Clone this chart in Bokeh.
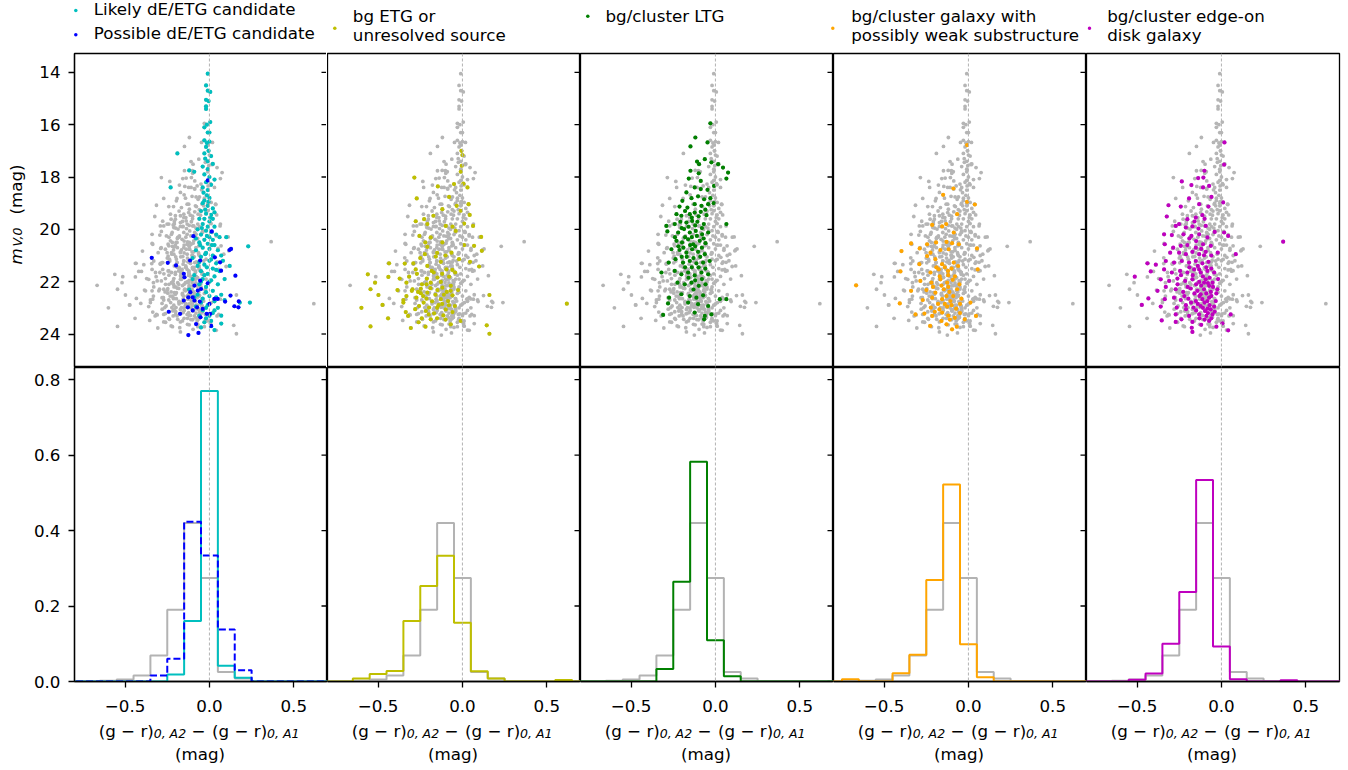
import math
from bokeh.plotting import figure
from bokeh.layouts import gridplot, column, row
from bokeh.models import Range1d, FixedTicker, Span, NumeralTickFormatter
from bokeh.embed import file_html
from bokeh.resources import INLINE
from bokeh.core.properties import value

FONT = "DejaVu Sans"
FS = "16.7px"

# ---------------- scatter data: (colour difference, m_V,0) ----------------
likely_de = [(-0.01,14.05),(-0.02,14.5),(-0.01,14.7),(0.005,14.75),(-0.02,15.05),(-0.005,15.1),
    (-0.02,15.3),(-0.02,15.4),(0.005,15.9),(-0.015,16.0),(-0.03,16.1),(-0.01,16.3),(0.0,16.3),
    (-0.03,16.6),(-0.015,16.7),(0.0,16.65),(-0.02,16.85),(-0.005,17.0),(-0.03,17.1),(0.01,17.2),
    (-0.025,17.3),(-0.01,17.4),(0.02,17.5),(-0.04,17.6),(-0.01,17.7),(-0.19,17.1),(-0.12,17.75),
    (-0.09,17.8),(-0.03,17.9),(0.0,18.0),(-0.02,18.2),(0.01,18.3),(-0.04,18.4),(-0.01,18.5),
    (0.03,18.1),(-0.23,18.4),(-0.015,18.7),(-0.03,18.9),(0.0,18.8),(-0.01,19.1),(-0.04,19.0),
    (0.02,19.2),(-0.05,19.3),(-0.02,19.4),(0.01,19.45),(-0.06,19.6),(-0.03,19.6),(0.0,19.7),
    (0.02,19.6),(-0.04,19.8),(-0.01,19.9),(0.03,19.9),(-0.07,20.0),(-0.02,20.05),(0.01,20.1),
    (0.04,20.2),(-0.05,20.2),(0.0,20.3),(-0.03,20.4),(0.02,20.4),(0.06,20.3),(0.1,20.3),
    (-0.06,20.5),(-0.01,20.55),(0.03,20.6),(-0.04,20.7),(0.0,20.75),(0.05,20.8),(-0.08,20.8),
    (0.23,20.65),(-0.02,20.9),(0.02,21.0),(-0.05,21.05),(0.07,21.0),(-0.1,21.1),(0.0,21.2),
    (0.04,21.3),(-0.03,21.35),(-0.07,21.4),(0.12,21.4),(0.02,21.5),(-0.05,21.6),(0.06,21.6),
    (-0.01,21.7),(-0.09,21.75),(0.03,21.8),(-0.04,21.9),(0.09,21.9),(0.0,22.0),(-0.06,22.1),
    (0.05,22.1),(-0.02,22.2),(-0.12,22.3),(0.02,22.35),(-0.07,22.5),(0.07,22.5),(0.0,22.55),
    (-0.04,22.65),(0.09,22.7),(0.03,22.75),(0.18,22.8),(0.24,22.8),(-0.01,22.9),(-0.08,22.95),
    (0.05,23.0),(-0.04,23.1),(0.02,23.2),(0.07,23.3),(-0.02,23.4),(0.01,23.5),(0.07,23.6),
    (0.01,23.7),(-0.05,23.75),
    (-0.035,18.6),(-0.005,18.95),(-0.025,19.25),(0.005,19.55),(-0.045,19.95),(-0.015,20.25),
    (0.015,20.6),(-0.055,20.6),(-0.025,20.95),(0.01,21.15),(-0.06,21.25),(-0.015,21.45),
    (0.04,21.55),(-0.03,21.75),(0.01,21.95),(-0.05,22.0),(-0.02,22.4),(0.04,22.6),(-0.05,22.8),
    (-0.02,23.0),(0.03,23.1),(-0.06,23.3),(0.0,23.3),(-0.03,23.55),(0.03,23.85),(-0.1,21.9),
    (-0.09,22.6),(0.08,21.2),(-0.08,20.35),(0.03,19.35)]

possible_de = [(-0.342,21.09),(-0.247,21.28),(-0.198,21.38),(-0.152,21.7),(-0.148,21.83),
    (-0.115,21.19),(-0.095,20.26),(-0.055,21.19),(-0.01,18.13),(0.014,20.08),(0.032,21.07),
    (0.063,21.26),(0.119,20.79),(0.128,20.75),(0.154,21.77),(0.069,21.58),(-0.113,22.4),
    (-0.089,22.15),(-0.069,22.34),(-0.055,21.96),(-0.05,22.28),(-0.099,22.6),(-0.125,22.6),
    (-0.152,22.72),(-0.089,22.72),(-0.057,22.76),(-0.01,22.06),(0.0,22.85),(0.03,22.66),
    (0.049,22.66),(0.093,22.76),(0.125,22.53),(0.148,22.94),(0.172,22.98),(0.174,22.75),
    (-0.241,23.15),(-0.174,23.23),(-0.128,22.98),(-0.099,23.1),(-0.073,22.98),(-0.04,23.04),
    (-0.016,23.23),(0.004,23.23),(-0.079,23.62),(0.01,23.69),(-0.065,23.96),(-0.125,24.04),
    (-0.053,23.36)]

bg_etg = [(-0.006,17.0),(0.0,17.16),(-0.004,17.57),(-0.01,17.8),(-0.285,18.02),(0.006,18.25),
    (-0.05,18.27),(0.03,18.4),(-0.146,18.36),(-0.271,18.82),(-0.079,18.76),(-0.034,19.1),
    (0.036,19.04),(-0.01,19.29),(-0.119,19.23),(-0.227,19.61),(-0.277,19.69),(0.043,19.45),
    (-0.172,19.48),(-0.208,19.8),(-0.099,19.87),(-0.059,19.9),(-0.04,20.06),(0.01,19.78),
    (0.063,19.87),(-0.255,20.25),(-0.188,20.31),(-0.119,20.5),(0.01,20.6),(0.111,20.29),
    (-0.208,20.67),(0.069,20.63),(-0.223,20.95),(-0.158,21.04),(-0.065,20.89),(-0.02,21.14),
    (0.115,20.82),(-0.435,21.3),(-0.291,21.3),(-0.342,21.31),(-0.208,21.4),(-0.128,21.24),
    (0.045,21.24),(0.099,21.42),(-0.277,21.53),(-0.182,21.59),(-0.095,21.53),(-0.043,21.65),
    (-0.561,21.72),(-0.439,21.82),(-0.372,21.88),(-0.316,21.81),(-0.211,21.88),(-0.148,21.84),
    (-0.079,21.81),(-0.518,22.04),(-0.332,22.04),(-0.213,22.1),(-0.128,22.01),(-0.069,22.16),
    (-0.545,22.29),(-0.385,22.32),(-0.296,22.29),(-0.247,22.44),(-0.208,22.42),(-0.148,22.32),
    (-0.093,22.39),(-0.026,22.32),(-0.498,22.51),(-0.332,22.55),(-0.273,22.61),(-0.213,22.65),
    (-0.128,22.67),(-0.085,22.74),(0.16,22.51),(-0.474,22.89),(-0.35,22.8),(-0.257,22.93),
    (-0.198,22.99),(-0.142,22.9),(-0.099,23.06),(-0.045,22.93),(-0.599,23.0),(0.619,22.84),
    (-0.336,23.16),(-0.217,23.12),(-0.168,23.21),(-0.113,23.29),(-0.059,23.16),(-0.441,23.4),
    (-0.322,23.31),(-0.241,23.4),(-0.188,23.44),(-0.01,23.5),(-0.306,23.77),(-0.545,23.71),
    (-0.219,23.72),(-0.069,23.63),(0.144,23.67),(0.16,23.99),(-0.247,22.27),(-0.263,22.39),
    (-0.233,22.55),(-0.188,22.04),(-0.119,22.23),(-0.059,22.52),
    (-0.27,21.7),(-0.24,22.1),(-0.19,22.25),(-0.16,22.5),(-0.11,22.5),(-0.07,22.35),(-0.23,22.8),
    (-0.18,22.75),(-0.15,23.0),(-0.12,22.85),(-0.08,22.9),(-0.28,23.05),(-0.2,23.25),(-0.15,23.4),
    (-0.1,23.45),(-0.26,23.55),(-0.17,21.65),(-0.12,21.7),(-0.06,21.55),(-0.25,21.1),(-0.15,20.9),
    (-0.1,21.0),(-0.22,20.5),(-0.3,22.35),(-0.35,22.7)]

ltg = [(-0.03,15.95),(-0.119,16.49),(-0.047,16.68),(-0.148,16.83),(-0.109,17.41),(-0.097,17.51),
    (-0.063,17.32),(-0.024,17.44),(0.016,17.51),(0.045,17.64),(0.075,17.83),(0.065,18.06),
    (-0.148,17.76),(-0.099,17.86),(-0.087,18.15),(-0.158,18.06),(-0.123,18.4),(-0.087,18.46),
    (-0.047,18.49),(-0.008,18.34),(-0.172,18.59),(-0.142,18.81),(-0.103,18.74),(-0.067,18.85),
    (-0.03,18.81),(-0.196,18.91),(-0.213,19.13),(-0.166,19.17),(-0.123,19.04),(-0.083,19.1),
    (-0.043,19.04),(-0.01,19.0),(-0.231,19.42),(-0.202,19.48),(-0.152,19.42),(-0.123,19.36),
    (-0.087,19.33),(-0.053,19.46),(-0.291,19.87),(-0.241,19.8),(-0.208,19.71),(-0.172,19.74),
    (-0.138,19.68),(-0.107,19.71),(-0.069,19.8),(0.065,19.8),(-0.285,20.08),(-0.221,20.12),
    (-0.186,19.99),(-0.152,20.12),(-0.117,20.06),(-0.079,20.19),(-0.043,20.12),(-0.231,20.44),
    (-0.198,20.5),(-0.162,20.38),(-0.132,20.57),(-0.093,20.44),(-0.059,20.53),(-0.261,20.76),
    (-0.213,20.79),(-0.172,20.89),(-0.138,20.76),(-0.103,20.86),(-0.063,20.95),(-0.277,21.27),
    (-0.237,21.14),(-0.192,21.27),(-0.152,21.21),(-0.113,21.3),(-0.073,21.27),(-0.034,21.21),
    (-0.32,21.65),(-0.241,21.59),(-0.202,21.72),(-0.162,21.65),(-0.123,21.76),(-0.083,21.65),
    (-0.043,21.72),(-0.225,22.04),(-0.182,22.1),(-0.142,22.04),(-0.099,22.16),(-0.059,22.1),
    (-0.275,22.61),(-0.202,22.48),(-0.152,22.55),(-0.113,22.61),(-0.073,22.52),(0.026,22.67),
    (0.065,22.67),(-0.281,22.83),(-0.162,22.8),(-0.103,22.86),(-0.043,22.93),(-0.31,23.27),
    (-0.123,23.18),(-0.063,23.31),(-0.067,23.44),(-0.024,23.25),
    (-0.18,19.3),(-0.14,19.55),(-0.1,19.5),(-0.06,19.25),(-0.2,19.95),(-0.16,19.9),(-0.12,19.85),
    (-0.08,19.95),(-0.24,20.3),(-0.18,20.3),(-0.14,20.3),(-0.11,20.25),(-0.07,20.35),(-0.22,20.65),
    (-0.19,20.7),(-0.15,20.6),(-0.12,20.65),(-0.08,20.7),(-0.2,21.05),(-0.17,21.05),(-0.13,21.1),
    (-0.09,21.05),(-0.18,21.45),(-0.14,21.45),(-0.1,21.45),(-0.06,21.5),(-0.16,21.85),
    (-0.12,21.95),(-0.08,21.9),(-0.13,22.3)]

weak_sub = [(-0.008,16.78),(-0.089,18.44),(-0.15,18.68),(-0.008,18.95),(0.038,19.05),
    (-0.067,19.42),(-0.215,19.83),(-0.156,19.89),(-0.132,19.8),(-0.087,20.12),(-0.192,20.5),
    (-0.13,20.48),(-0.097,20.53),(-0.057,20.57),(-0.34,20.54),(-0.289,20.73),(-0.245,20.57),
    (-0.397,20.83),(-0.225,20.89),(-0.166,20.79),(-0.117,20.76),(0.051,20.73),(-0.291,21.33),
    (-0.245,21.02),(-0.196,21.14),(-0.156,21.33),(-0.087,21.27),(-0.061,21.4),(-0.403,21.61),
    (-0.225,21.65),(-0.176,21.53),(-0.121,21.59),(0.055,21.53),(-0.666,22.14),(-0.285,21.97),
    (-0.219,22.04),(-0.166,21.91),(-0.126,22.04),(-0.093,21.93),(-0.053,22.1),(-0.34,22.35),
    (-0.249,22.32),(-0.196,22.42),(-0.146,22.29),(-0.113,22.39),(-0.067,22.29),(-0.271,22.7),
    (-0.215,22.61),(-0.156,22.67),(-0.107,22.74),(-0.042,22.65),(-0.407,22.83),(0.012,22.8),
    (-0.223,22.99),(-0.172,23.06),(-0.126,22.95),(-0.073,23.03),(-0.314,23.25),(-0.261,23.22),
    (-0.215,23.31),(-0.156,23.18),(-0.081,23.38),(-0.022,23.44),(0.045,23.31),(-0.227,23.69),
    (-0.13,23.63),(-0.069,23.72),(-0.097,23.82),
    (-0.19,21.45),(-0.14,21.45),(-0.1,21.5),(-0.17,21.8),(-0.12,21.75),(-0.08,21.8),(-0.21,22.2),
    (-0.16,22.15),(-0.12,22.2),(-0.09,22.55),(-0.13,22.55),(-0.18,22.85),(-0.14,22.85),
    (-0.1,22.9),(-0.05,22.85),(-0.2,23.15),(-0.12,23.3),(-0.16,23.5),(-0.11,23.45),(-0.05,23.2)]

edge_on = [(0.018,16.68),(0.016,17.53),(-0.101,17.76),(-0.138,18.04),(-0.107,18.02),(-0.235,18.17),
    (-0.073,18.34),(-0.109,18.4),(-0.178,18.31),(-0.059,18.76),(-0.192,18.82),(-0.132,19.04),
    (0.01,18.97),(-0.314,19.08),(-0.241,19.13),(-0.077,19.13),(-0.324,19.51),(-0.202,19.61),
    (-0.152,19.55),(-0.113,19.46),(-0.271,19.87),(-0.251,19.8),(-0.211,19.93),(-0.172,19.89),
    (-0.136,19.97),(-0.093,19.87),(-0.04,20.1),(0.016,20.12),(-0.34,20.19),(-0.294,20.22),
    (-0.225,20.19),(-0.178,20.25),(-0.132,20.19),(-0.083,20.31),(0.04,20.25),(-0.336,20.57),
    (-0.286,20.7),(-0.241,20.63),(-0.202,20.6),(-0.152,20.7),(-0.109,20.57),(-0.063,20.63),
    (-0.022,20.89),(0.085,20.95),(0.366,20.47),(-0.304,20.89),(-0.251,20.89),(-0.211,20.95),
    (-0.172,20.86),(-0.132,20.95),(-0.093,20.86),(-0.439,21.3),(-0.389,21.35),(-0.33,21.21),
    (-0.281,21.27),(-0.235,21.21),(-0.192,21.27),(-0.152,21.21),(-0.113,21.3),(-0.077,21.24),
    (-0.419,21.61),(-0.34,21.53),(-0.294,21.65),(-0.245,21.59),(-0.202,21.65),(-0.162,21.53),
    (-0.123,21.65),(-0.083,21.59),(-0.043,21.65),(-0.514,21.81),(-0.36,21.91),(-0.31,21.97),
    (-0.261,21.88),(-0.215,21.97),(-0.172,21.91),(-0.132,22.01),(-0.093,21.91),(-0.053,22.04),
    (-0.379,22.35),(-0.33,22.2),(-0.271,22.29),(-0.227,22.39),(-0.182,22.26),(-0.142,22.35),
    (-0.103,22.29),(-0.063,22.39),(-0.024,22.29),(-0.433,22.64),(-0.336,22.67),(-0.281,22.61),
    (-0.241,22.7),(-0.196,22.65),(-0.152,22.74),(-0.113,22.67),(-0.073,22.61),(-0.034,22.74),
    (-0.472,22.89),(-0.36,22.95),(-0.265,22.99),(-0.211,22.9),(-0.166,22.99),(-0.123,22.93),
    (-0.083,23.03),(-0.043,22.95),(-0.271,23.25),(-0.192,23.31),(-0.132,23.25),(-0.089,23.31),
    (-0.053,23.25),(0.055,23.25),(-0.354,23.48),(-0.271,23.54),(-0.237,23.44),(-0.172,23.54),
    (-0.073,23.5),(0.006,23.59),(-0.176,23.76),(-0.03,23.72),(0.04,23.86),(-0.172,23.92),
    (-0.103,22.04),(-0.073,22.16),(-0.123,22.48),(-0.083,22.74),(-0.097,23.12),(-0.063,23.06),
    (-0.132,21.53),(-0.103,20.99),
    (-0.14,21.4),(-0.09,21.45),(-0.06,21.5),(-0.17,21.75),(-0.11,21.8),(-0.07,21.85),(-0.15,22.1),
    (-0.12,22.15),(-0.08,22.05),(-0.05,22.2),(-0.16,22.45),(-0.13,22.55),(-0.09,22.45),
    (-0.06,22.55),(-0.18,22.8),(-0.14,22.85),(-0.1,22.8),(-0.07,22.9),(-0.15,23.1),(-0.11,23.0),
    (-0.08,23.2),(-0.04,23.15),(-0.13,23.4),(-0.1,23.45),(-0.06,23.4),(-0.12,23.65),(-0.2,22.2),
    (-0.22,22.55),(-0.19,21.45),(-0.24,21.75),(-0.26,22.1),(-0.21,23.05),(-0.03,22.45),
    (-0.02,21.9),(-0.15,20.45),(-0.12,20.75),(-0.19,20.35),(-0.06,21.0),(-0.16,19.7),(-0.1,19.6)]

# ---------------- histogram data (fraction per 0.1 mag bin) ----------------
bin_centers = [-0.8,-0.7,-0.6,-0.5,-0.4,-0.3,-0.2,-0.1,0.0,0.1,0.2,0.3,0.4,0.5,0.6,0.7]
h_all      = [0,0,0.002,0.005,0.016,0.069,0.19,0.42,0.274,0.025,0.008,0,0,0,0,0]
h_likely   = [0,0,0,0,0,0,0.0185,0.16,0.77,0.042,0.01,0,0,0,0,0]
h_possible = [0,0,0,0,0,0.016,0.06,0.423,0.334,0.138,0.03,0,0,0,0,0]
h_etg      = [0,0,0.008,0.02,0.028,0.16,0.253,0.333,0.156,0.027,0.008,0,0,0,0.004,0]
h_ltg      = [0,0,0,0,0,0.033,0.264,0.582,0.109,0.014,0,0,0,0,0,0]
h_weak     = [0,0.006,0,0,0.022,0.071,0.269,0.522,0.099,0.011,0,0,0,0,0,0]
h_edge     = [0,0,0,0.0045,0.021,0.1,0.237,0.534,0.093,0.006,0,0,0.003,0,0,0]

# ---------------- labels / colours ----------------
C_LIKELY, C_POSS, C_ETG, C_LTG, C_WEAK, C_EDGE = "#00BFBF", "#0000FF", "#BFBF00", "#008000", "#FFA500", "#BF00BF"
GREY_PT, GREY_LN = "#b5b5b5", "#b3b3b3"

panels = [
    [(likely_de, h_likely, C_LIKELY, "solid"), (possible_de, h_possible, C_POSS, "7 3")],
    [(bg_etg, h_etg, C_ETG, "solid")],
    [(ltg, h_ltg, C_LTG, "solid")],
    [(weak_sub, h_weak, C_WEAK, "solid")],
    [(edge_on, h_edge, C_EDGE, "solid")],
]
all_pts = likely_de + possible_de + bg_etg + ltg + weak_sub + edge_on

legend_entries = [  # (colour, lines, column)
    (C_LIKELY, ["Likely dE/ETG candidate"], 0),
    (C_POSS, ["Possible dE/ETG candidate"], 0),
    (C_ETG, ["bg ETG or", "unresolved source"], 1),
    (C_LTG, ["bg/cluster LTG"], 2),
    (C_WEAK, ["bg/cluster galaxy with", "possibly weak substructure"], 3),
    (C_EDGE, ["bg/cluster edge-on", "disk galaxy"], 4),
]
Y_LABEL = [("m", "italic", FS), ("V,0", "italic", "12.5px"), ("(mag)", "normal", FS)]
X_LABEL_MAIN = ["(g \u2212 r)", "\u2212", "(g \u2212 r)"]
X_LABEL_SUB = ["0, A2", "0, A1"]

XR = (-0.8, 0.7)
YR_TOP = (25.28, 13.28)
YR_BOT = (0, 0.832)
FW, FH = 253, 314
STRIP = 30          # width of the y-label strip
LEFT = 43           # left border of first column (tick labels)
BOTTOM = 38         # bottom border of lower row (tick labels)
HH = 52             # header height
FTR = 49            # footer height
W_TOTAL = STRIP + LEFT + 5 * FW + 2
GRID_H = 1 + FH + FH + BOTTOM
TXT_SHIFT = 7       # text glyphs render about this much lower than their nominal baseline


def style_axis(ax):
    ax.axis_line_color = "black"
    ax.axis_line_width = 1.3
    ax.major_tick_line_color = "black"
    ax.major_tick_line_width = 1.3
    ax.major_tick_out = 6
    ax.major_tick_in = 0
    ax.minor_tick_line_color = None
    ax.major_label_text_font = FONT
    ax.major_label_text_font_size = FS
    ax.major_label_text_color = "black"


def make_panel(r, col):
    yr = YR_TOP if r == 0 else YR_BOT
    p = figure(frame_width=FW, frame_height=FH,
               x_range=Range1d(*XR), y_range=Range1d(*yr),
               output_backend="svg", toolbar_location=None,
               x_axis_location=("below" if r == 1 else None),
               y_axis_location=("left" if col == 0 else None),
               min_border_left=(LEFT if col == 0 else 0),
               min_border_right=(2 if col == 4 else 0),
               min_border_top=(1 if r == 0 else 0),
               min_border_bottom=(BOTTOM if r == 1 else 0))
    p.outline_line_color = "black"
    p.outline_line_width = 1.3
    p.grid.visible = False
    p.background_fill_color = "white"
    p.border_fill_color = "white"
    yticks = [14, 16, 18, 20, 22, 24] if r == 0 else [0, 0.2, 0.4, 0.6, 0.8]

    if col == 0:
        ax = p.yaxis[0]
        ax.ticker = FixedTicker(ticks=yticks)
        style_axis(ax)
        ax.major_label_standoff = 8
        if r == 1:
            ax.formatter = NumeralTickFormatter(format="0.0")
    if r == 1:
        ax = p.xaxis[0]
        ax.ticker = FixedTicker(ticks=[-0.5, 0, 0.5])
        ax.major_label_overrides = {-0.5: "\u22120.5", 0: "0.0", 0.5: "0.5"}
        style_axis(ax)
        ax.major_label_standoff = 12
    if col < 4:
        # outward ticks of the neighbouring panel's y axis (drawn pointing left from this edge)
        p.ray(x=[XR[1]] * len(yticks), y=yticks, length=6, length_units="screen",
              angle=math.pi, line_color="black", line_width=1.3)

    p.add_layout(Span(location=0, dimension="height", line_color=GREY_LN,
                      line_width=1, line_dash="3 2"))

    if r == 0:
        p.scatter([q[0] for q in all_pts], [q[1] for q in all_pts],
                  size=3.8, color=GREY_PT, line_color=None)
        for pts, _, colr, _ in panels[col]:
            p.scatter([q[0] for q in pts], [q[1] for q in pts],
                      size=4.2, color=colr, line_color=None)
    else:
        edges = [c - 0.05 for c in bin_centers] + [bin_centers[-1] + 0.05]
        p.step(edges, h_all + [h_all[-1]], mode="after", line_color=GREY_LN, line_width=2)
        for _, h, colr, dash in panels[col]:
            p.step(edges, h + [h[-1]], mode="after", line_color=colr,
                   line_width=2, line_dash=dash)
    return p


rows = [[make_panel(r, c) for c in range(5)] for r in range(2)]
grid = gridplot(rows, toolbar_location=None)


def blank(w, h):
    f = figure(width=w, height=h, x_range=Range1d(0, w), y_range=Range1d(0, h),
               output_backend="svg", toolbar_location=None, x_axis_location=None,
               y_axis_location=None, min_border=0)
    f.outline_line_color = None
    f.grid.visible = False
    f.background_fill_color = "white"
    f.border_fill_color = "white"
    return f


# ---------------- y-label strip (page coords: x = x, page_y = HH + GRID_H - y) ----------------
strip = blank(STRIP, GRID_H)
ybase = HH + GRID_H
for (txt, style, size), py, xoff in zip(Y_LABEL, [264, 246, 214], [0, 1.8, 0]):
    strip.text([22.5 - TXT_SHIFT + xoff], [ybase - py], text=[txt], angle=math.pi / 2,
               text_font=value(FONT), text_font_size=value(size), text_font_style=style,
               text_baseline="alphabetic", text_align="left", text_color="black")

# ---------------- header (legend), page coords: y = HH - page_y ----------------
hdr = blank(W_TOTAL, HH)
col_marker_x = [75.3, 334.3, 587.3, 832.3, 1089.0]
col_text_x = [93.3, 352.3, 605.0, 850.7, 1106.7]
mx, my, mc, tx, ty, tt = [], [], [], [], [], []
col0_count = 0
for colr, lines, col in legend_entries:
    if col == 0:
        base_py = [15.7, 39.7][col0_count]
        mark_py = [10.0, 34.3][col0_count]
        col0_count += 1
    elif len(lines) == 1:
        base_py, mark_py = 22.2, 15.7
    else:
        base_py, mark_py = 22.2, 27.7
    mx.append(col_marker_x[col]); my.append(HH - mark_py); mc.append(colr)
    for i, ln in enumerate(lines):
        tx.append(col_text_x[col]); ty.append(HH - (base_py - TXT_SHIFT) - 18.8 * i); tt.append(ln)
hdr.scatter(mx, my, size=3.5, color=mc, line_color=None)
hdr.text(tx, ty, text=tt, text_font=value(FONT), text_font_size=value(FS),
         text_baseline="alphabetic", text_align="left", text_color="black")

# ---------------- footer (x-axis labels), page coords: y = FTOP + FTR - page_y ----------------
ftr = blank(W_TOTAL, FTR)
ftop = HH + GRID_H
fy = lambda py: ftop + FTR - (py - TXT_SHIFT)
main_x, main_y, main_t, sub_x, sub_y, sub_t, mag_x, mag_y = [], [], [], [], [], [], [], []
for c in range(5):
    cx = STRIP + LEFT + FW * c + FW / 2
    x0 = cx - 101.3
    main_x += [x0, x0 + 92.7, x0 + 113.4]
    main_y += [fy(737.2)] * 3
    main_t += X_LABEL_MAIN
    sub_x += [x0 + 55.0, x0 + 168.4]
    sub_y += [fy(739.6)] * 2
    sub_t += X_LABEL_SUB
    mag_x.append(cx); mag_y.append(fy(760.3))
ftr.text(main_x, main_y, text=main_t, text_font=value(FONT), text_font_size=value(FS),
         text_baseline="alphabetic", text_align="left", text_color="black")
ftr.text(sub_x, sub_y, text=sub_t, text_font=value(FONT), text_font_size=value("12.5px"),
         text_font_style="italic", text_baseline="alphabetic", text_align="left",
         text_color="black")
ftr.text(mag_x, mag_y, text=["(mag)"] * 5, text_font=value(FONT), text_font_size=value(FS),
         text_baseline="alphabetic", text_align="center", text_color="black")

layout = column(hdr, row(strip, grid, spacing=0), ftr, spacing=0)
open("out.html", "w").write(file_html(layout, INLINE, "chart"))
